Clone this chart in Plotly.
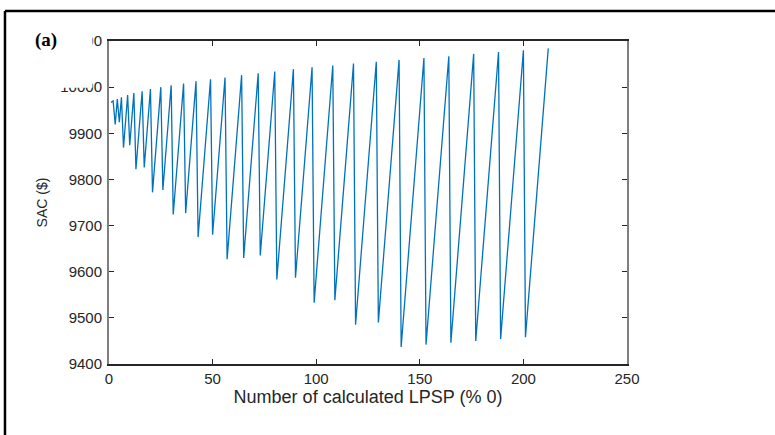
import plotly.graph_objects as go

# Sawtooth vertices (peak at k, trough at k+1)
lpsp_count = [1, 2, 3, 4, 5, 6, 7, 9, 10, 12, 13, 16, 17, 20, 21, 25, 26, 30, 31,
              36, 37, 42, 43, 49, 50, 56, 57, 64, 65, 72, 73, 80, 81, 89, 90,
              98, 99, 108, 109, 118, 119, 129, 130, 140, 141, 152, 153, 164, 165,
              176, 177, 188, 189, 200, 201, 212]
sac_values = [9967, 9970, 9919, 9974, 9924, 9978, 9869, 9983, 9874, 9987, 9822,
              9991, 9826, 9996, 9772, 10000, 9777, 10004, 9724, 10008, 9727,
              10013, 9675, 10017, 9680, 10021, 9627, 10026, 9630, 10030, 9635,
              10034, 9583, 10039, 9587, 10043, 9533, 10047, 9538, 10051, 9485,
              10055, 9490, 10059, 9437, 10063, 9442, 10067, 9446, 10072, 9450,
              10076, 9454, 10080, 9458, 10084]

x_ticks = [0, 50, 100, 150, 200, 250]
y_ticks = [9400, 9500, 9600, 9700, 9800, 9900, 10000, 10100]
x_tick_labels = [str(v) for v in x_ticks]
y_tick_labels = [str(v) for v in y_ticks]

fig = go.Figure()
fig.add_trace(go.Scatter(x=lpsp_count, y=sac_values, mode="lines",
                         line=dict(color="#0072BD", width=1.3),
                         showlegend=False))

tick_font = dict(family="Liberation Sans, Arial", size=15, color="#262626")
title_font = dict(family="Liberation Sans, Arial", size=18, color="#262626")
ytitle_font = dict(family="Liberation Sans, Arial", size=14, color="#262626")

fig.update_layout(
    width=775, height=435,
    margin=dict(l=109, r=148, t=41, b=71),
    paper_bgcolor="white", plot_bgcolor="white",
    xaxis=dict(range=[0, 250], tickvals=x_ticks, ticktext=x_tick_labels,
               ticks="inside", ticklen=5, automargin=True,
               tickcolor="#262626", showgrid=False, zeroline=False,
               showline=True, linecolor="#262626", linewidth=1.5, mirror="ticks",
               tickfont=tick_font,
               title=dict(text="Number of calculated LPSP (% 0)", font=title_font,
                          standoff=3)),
    yaxis=dict(range=[9400, 10100], tickvals=y_ticks, ticktext=y_tick_labels,
               ticks="inside", ticklen=5, automargin=True, ticklabelstandoff=2,
               tickcolor="#262626", showgrid=False, zeroline=False,
               showline=True, linecolor="#7f7f7f", linewidth=2, mirror="ticks",
               tickfont=tick_font,
               title=dict(text="SAC ($)", font=ytitle_font, standoff=9)),
    font=tick_font,
)

# Outer frame of the panel (left and top edges) and the label box
fig.add_shape(type="line", xref="paper", yref="paper", x0=-0.2008, x1=-0.2008,
              y0=1.0929, y1=-0.23, line=dict(color="black", width=2.5))
fig.add_shape(type="line", xref="paper", yref="paper", x0=-0.2008, x1=1.30,
              y0=1.0929, y1=1.0929, line=dict(color="black", width=2.5))
fig.add_shape(type="rect", xref="paper", yref="paper", x0=-0.172, x1=-0.0319,
              y0=0.855, y1=1.075, fillcolor="white", line=dict(width=0),
              layer="above")

fig.add_annotation(text="<b>(a)</b>", xref="paper", yref="paper",
                   x=(46 - 109) / 518, y=(364 - 40) / 323, showarrow=False,
                   xanchor="center", yanchor="middle",
                   font=dict(family="Liberation Serif, DejaVu Serif", size=19,
                             color="black"))

fig.write_html("out.html",
               config={"displayModeBar": False},
               post_script="document.body.style.margin='0';")
